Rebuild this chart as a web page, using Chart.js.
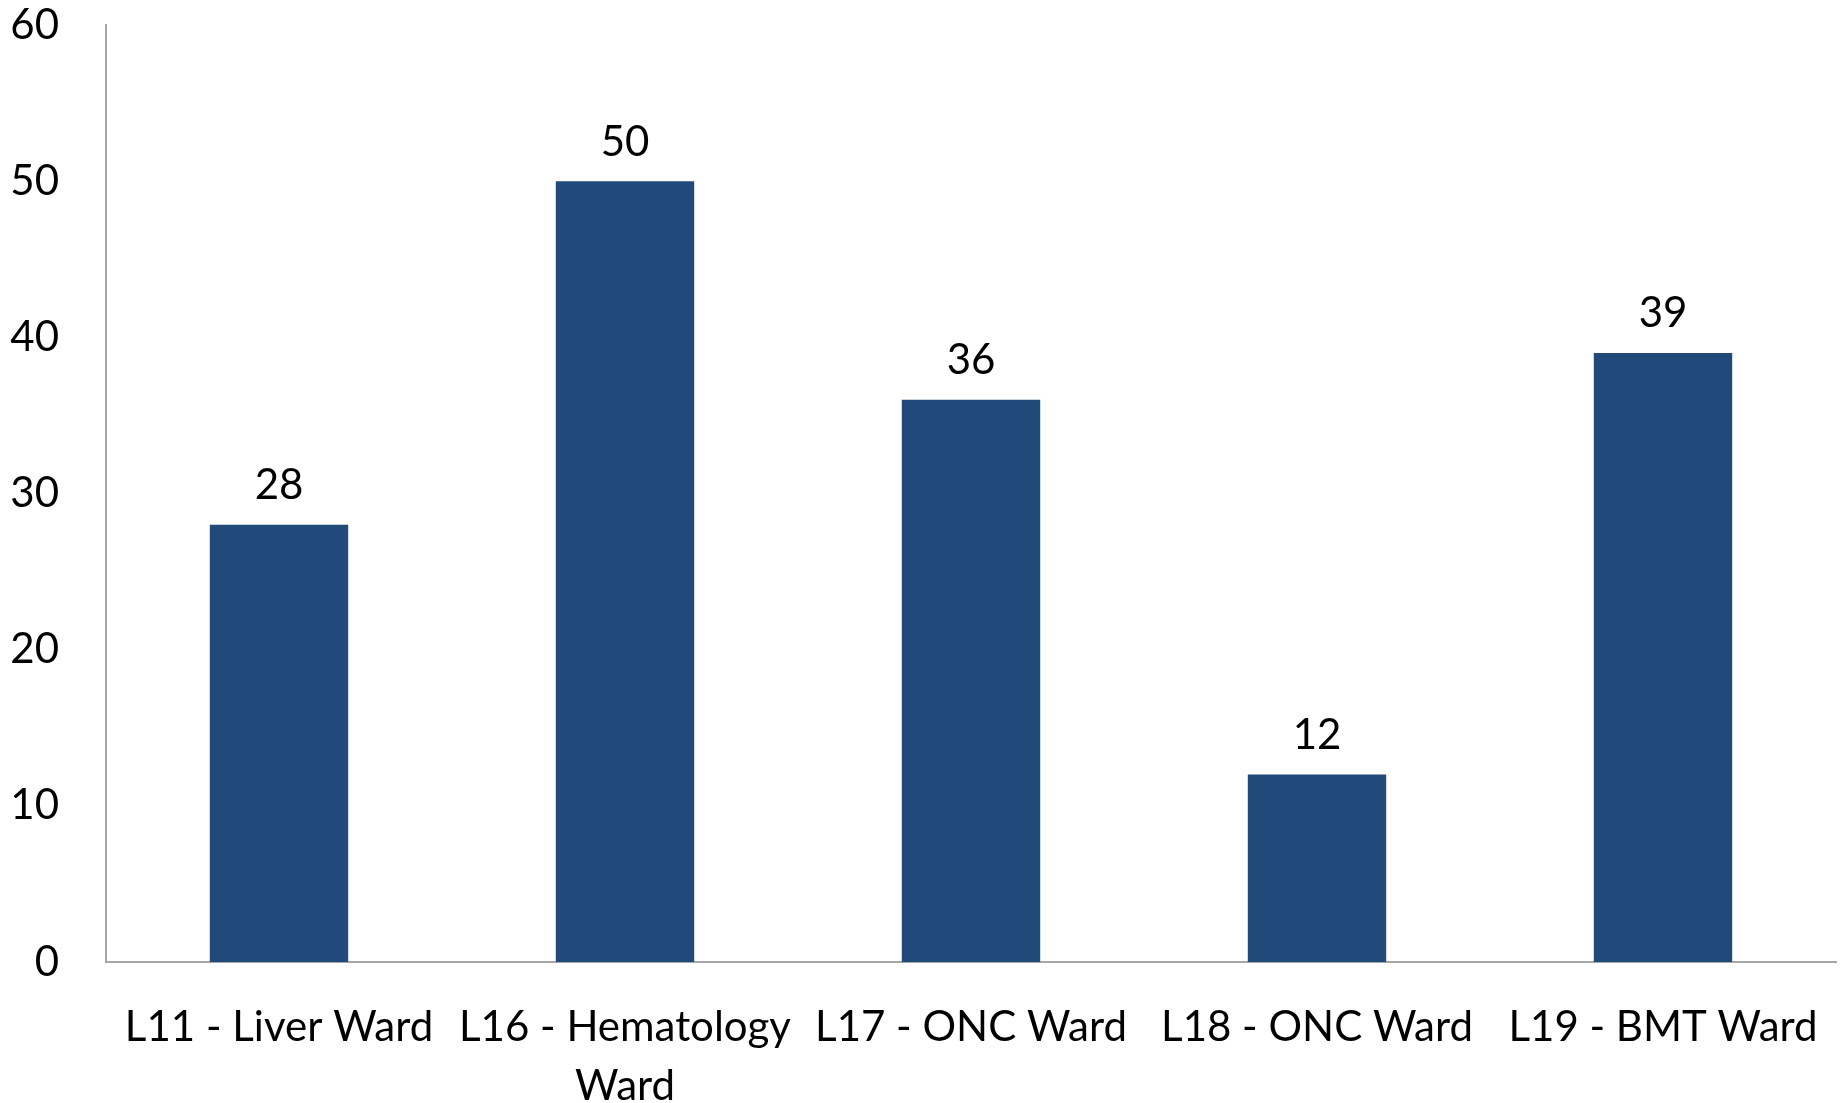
<!DOCTYPE html>
<html lang="en">
<head>
    <meta charset="UTF-8">
    <title>Ward Chart</title>
    <style>
        body {
            margin: 0;
            padding: 0;
            background: #ffffff;
        }

        #wrap {
            width: 1845px;
            height: 1103px;
            position: relative;
        }
    </style>
</head>
<body>
    <div id="wrap">
        <canvas id="wardChart"></canvas>
    </div>

    <script src="https://cdn.jsdelivr.net/npm/chart.js"></script>
    <script>
        // Chart data
        var wards = ['L11 - Liver Ward', ['L16 - Hematology', 'Ward'], 'L17 - ONC Ward', 'L18 - ONC Ward', 'L19 - BMT Ward'];
        var counts = [28, 50, 36, 12, 39];
        var yTicks = [0, 10, 20, 30, 40, 50, 60];

        var fontFamily = 'Lato, "Open Sans", sans-serif';

        // Draws the value above each bar
        var valueLabels = {
            id: 'valueLabels',
            afterDatasetsDraw: function(chart) {
                var ctx = chart.ctx;
                var meta = chart.getDatasetMeta(0);
                ctx.save();
                ctx.fillStyle = '#000000';
                ctx.font = '42px ' + fontFamily;
                ctx.textAlign = 'center';
                ctx.textBaseline = 'middle';
                meta.data.forEach(function(bar, i) {
                    ctx.fillText(counts[i], bar.x, bar.y - 39);
                });
                ctx.restore();
            }
        };

        var ctx = document.getElementById('wardChart').getContext('2d');

        window.myChart = new Chart(ctx, {
            type: 'bar',
            data: {
                labels: wards,
                datasets: [{
                    data: counts,
                    backgroundColor: '#214A7B',
                    borderWidth: 0,
                    barPercentage: 0.4,
                    categoryPercentage: 1.0
                }]
            },
            plugins: [valueLabels],
            options: {
                responsive: true,
                maintainAspectRatio: false,
                animation: false,
                layout: {
                    padding: { top: 25, right: 9, left: 0, bottom: 0 }
                },
                plugins: {
                    legend: { display: false },
                    tooltip: { enabled: false }
                },
                scales: {
                    x: {
                        grid: { display: false, drawTicks: false },
                        border: { display: true, color: '#A6A6A6', width: 2 },
                        ticks: {
                            color: '#000000',
                            padding: 36,
                            maxRotation: 0,
                            autoSkip: false,
                            font: { family: fontFamily, size: 42, lineHeight: 1.4 }
                        },
                        afterFit: function(scale) {
                            scale.height = 141;
                            scale.paddingLeft = 0;
                            scale.paddingRight = 0;
                        }
                    },
                    y: {
                        min: yTicks[0],
                        max: yTicks[yTicks.length - 1],
                        grid: { display: false, drawTicks: false },
                        border: { display: true, color: '#A6A6A6', width: 2 },
                        afterBuildTicks: function(scale) {
                            scale.ticks = yTicks.map(function(v) { return { value: v }; });
                        },
                        ticks: {
                            color: '#000000',
                            padding: 47,
                            font: { family: fontFamily, size: 42 }
                        },
                        afterFit: function(scale) {
                            scale.width = 106;
                            scale.paddingTop = 0;
                            scale.paddingBottom = 0;
                        }
                    }
                }
            }
        });
    </script>
</body>
</html>
